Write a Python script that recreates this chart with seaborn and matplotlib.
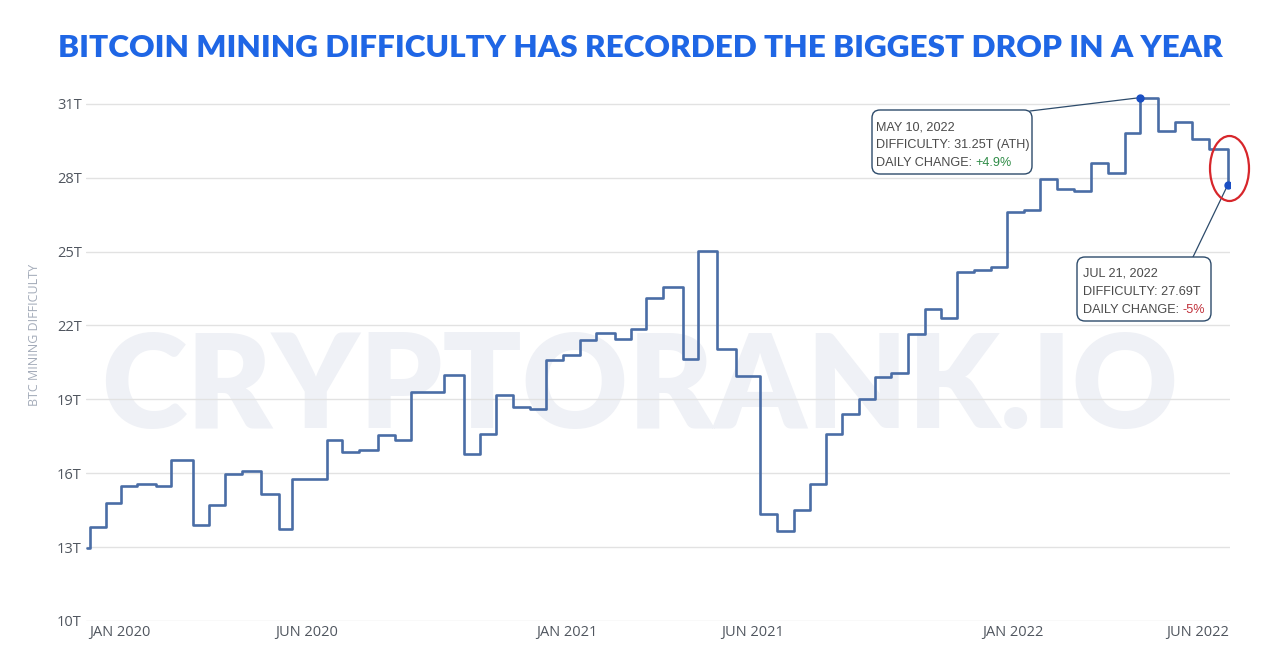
import pandas as pd
import matplotlib.pyplot as plt
import matplotlib.dates as mdates
import seaborn as sns
from matplotlib.patches import FancyBboxPatch, Ellipse
from matplotlib.text import Annotation
from matplotlib.transforms import IdentityTransform

# difficulty adjustments (date of change, new difficulty in T)
dates = [
    '2019-12-30', '2020-01-01', '2020-01-14', '2020-01-27', '2020-02-09', '2020-02-24',
    '2020-03-08', '2020-03-26', '2020-04-08', '2020-04-21', '2020-05-05', '2020-05-20',
    '2020-06-04', '2020-06-15', '2020-07-13', '2020-07-26', '2020-08-09', '2020-08-24',
    '2020-09-07', '2020-09-20', '2020-10-17', '2020-11-03', '2020-11-16', '2020-11-29',
    '2020-12-13', '2020-12-27', '2021-01-09', '2021-01-23', '2021-02-06', '2021-02-19',
    '2021-03-06', '2021-03-19', '2021-04-01', '2021-04-15', '2021-05-01', '2021-05-13',
    '2021-05-29', '2021-06-13', '2021-07-03', '2021-07-17', '2021-07-31', '2021-08-13',
    '2021-08-26', '2021-09-08', '2021-09-22', '2021-10-05', '2021-10-18', '2021-11-01',
    '2021-11-15', '2021-11-28', '2021-12-11', '2021-12-25', '2022-01-08', '2022-01-21',
    '2022-02-04', '2022-02-17', '2022-03-03', '2022-03-17', '2022-03-31', '2022-04-14',
    '2022-04-28', '2022-05-10', '2022-05-25', '2022-06-08', '2022-06-22', '2022-07-06',
    '2022-07-21',
]
difficulty = [
    12.95, 13.80, 14.78, 15.47, 15.55, 15.49,
    16.55, 13.91, 14.72, 15.96, 16.10, 15.14,
    13.73, 15.78, 17.35, 16.85, 16.95, 17.55,
    17.35, 19.31, 19.99, 16.79, 17.60, 19.16,
    18.67, 18.60, 20.60, 20.81, 21.43, 21.70,
    21.46, 21.87, 23.12, 23.57, 20.62, 25.04,
    21.05, 19.94, 14.35, 13.67, 14.49, 15.56,
    17.61, 18.42, 19.01, 19.90, 20.08, 21.66,
    22.65, 22.32, 24.16, 24.25, 24.37, 26.62,
    26.67, 27.96, 27.55, 27.45, 28.59, 28.21,
    29.80, 31.25, 29.88, 30.26, 29.57, 29.15,
    27.69,
]
tick_dates = ['2020-01-01', '2020-06-01', '2021-01-01', '2021-06-01', '2022-01-01', '2022-06-01']
tick_labels = ['JAN 2020', 'JUN 2020', 'JAN 2021', 'JUN 2021', 'JAN 2022', 'JUN 2022']
y_ticks = [10, 13, 16, 19, 22, 25, 28, 31]

df = pd.DataFrame({'date': pd.to_datetime(dates), 'difficulty': difficulty})

sns.set_theme(style='white')
plt.rcParams['font.family'] = ['Open Sans', 'DejaVu Sans']

W, H = 1280, 648
fig = plt.figure(figsize=(12.8, 6.48), dpi=100, facecolor='white')
ax = fig.add_axes([86 / W, 1 - 621 / H, (1230 - 86) / W, (621 - 94) / H])
ax.set_facecolor('none')

sns.lineplot(data=df, x='date', y='difficulty', ax=ax, color='#4a6da6', linewidth=1.9,
             drawstyle='steps-post', estimator=None, zorder=3)

ath = df.loc[df['difficulty'].idxmax()]
last = df.iloc[-1]
ax.plot([ath['date'], last['date']], [ath['difficulty'], last['difficulty']], 'o',
        color='#1a4fc4', markersize=5, zorder=5)

ax.set_xlim(pd.Timestamp('2019-12-29'), pd.Timestamp('2022-07-23'))
ax.set_ylim(10, 31.4)
ax.set_yticks(y_ticks)
ax.set_yticklabels([f'{v}T' for v in y_ticks])
ax.set_xticks(pd.to_datetime(tick_dates))
ax.set_xticklabels(tick_labels, ha='left')
ax.set_xlabel('')
ax.set_ylabel('')
ax.grid(axis='y', color='#e2e2e2', linewidth=1)
ax.grid(axis='x', visible=False)
sns.despine(ax=ax, left=True, bottom=True)
ax.tick_params(axis='both', length=0, labelsize=10.5, labelcolor='#50565f', pad=3)

fig.text(35 / W, 1 - 335 / H, 'BTC MINING DIFFICULTY', rotation=90, ha='center', va='center',
         fontsize=9, color='#a3abb9')

title = fig.text(640 / W, 1 - 57 / H, 'BITCOIN MINING DIFFICULTY HAS RECORDED THE BIGGEST DROP IN A YEAR',
                 ha='center', va='baseline', fontsize=24, fontweight='heavy', color='#1f66e5',
                 family=['Lato', 'DejaVu Sans'])
mark = fig.text(640 / W, 1 - 428 / H, 'CRYPTORANK.IO', ha='center', va='baseline', fontsize=100,
                fontweight='heavy', color='#eff1f6', family=['Lato', 'DejaVu Sans'], zorder=-1)

fig.canvas.draw()
for t, target in [(title, 1164), (mark, 1076)]:
    t.set_fontsize(t.get_fontsize() * target / t.get_window_extent().width)

# annotation boxes (pixel positions)
box_kw = dict(boxstyle='round,pad=0,rounding_size=8', transform=IdentityTransform(),
              facecolor='white', edgecolor='#2d4b6b', linewidth=1, zorder=6)
fig.add_artist(FancyBboxPatch((872, H - 174), 160, 64, **box_kw))
fig.add_artist(FancyBboxPatch((1077, H - 321), 134, 64, **box_kw))

line_kw = dict(arrowstyle='-', color='#2d4b6b', linewidth=0.9, shrinkA=0, shrinkB=0)
ax.annotate('', xy=(mdates.date2num(ath['date']), ath['difficulty']), xytext=(1030, H - 111),
            textcoords='figure pixels', arrowprops=line_kw, zorder=4)
ax.annotate('', xy=(mdates.date2num(last['date']), last['difficulty']), xytext=(1193, H - 257),
            textcoords='figure pixels', arrowprops=line_kw, zorder=4)

txt_kw = dict(fontsize=9.1, color='#4a4a4a', family=['Liberation Sans', 'DejaVu Sans'],
              va='baseline', ha='left', zorder=7)


def box_text(x, ys, lines, change, change_color):
    for y, s in zip(ys, lines):
        fig.text(x / W, 1 - y / H, s, **txt_kw)
    lab = fig.text(x / W, 1 - ys[2] / H, 'DAILY CHANGE:', **txt_kw)
    kw = dict(txt_kw)
    kw['va'] = 'bottom'
    kw['color'] = change_color
    fig.add_artist(Annotation(change, xy=(1, 0), xycoords=lab, xytext=(2.6, 0),
                              textcoords='offset points', **kw))


box_text(876, [130, 148, 166], ['MAY 10, 2022', 'DIFFICULTY: 31.25T (ATH)'], '+4.9%', '#2e8b46')
box_text(1083, [277, 295, 313], ['JUL 21, 2022', 'DIFFICULTY: 27.69T'], '-5%', '#c0303a')

fig.add_artist(Ellipse((1229.5, H - 168.5), 39, 65, transform=IdentityTransform(), fill=False,
                       edgecolor='#d7262b', linewidth=1.6, zorder=6))

fig.savefig('out.png', dpi=100)
